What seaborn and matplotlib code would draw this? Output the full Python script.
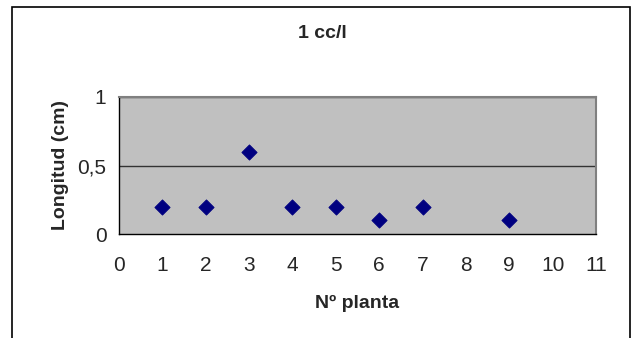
import pandas as pd
import numpy as np
import matplotlib
matplotlib.use("Agg")
import matplotlib.pyplot as plt
import seaborn as sns

plantas = [1, 2, 3, 4, 5, 6, 7, 9]
longitud = [0.2, 0.2, 0.6, 0.2, 0.2, 0.1, 0.2, 0.1]
x_ticks = list(range(0, 12))
y_ticks = [0, 0.5, 1]
y_labels = ["0", "0,5", "1"]

df = pd.DataFrame({"planta": plantas, "longitud": longitud})

sns.set_style("white")
plt.rcParams['font.family'] = ['Liberation Sans', 'DejaVu Sans']

fig = plt.figure(figsize=(6.32, 3.38), dpi=100)
ax = fig.add_axes([119 / 632, 1 - 234 / 338, (596 - 119) / 632, (234 - 97) / 338])

# marco exterior del grafico
fig.patches.append(plt.Rectangle((12 / 632, -0.05), (630 - 12) / 632, 1 - 7 / 338 + 0.05,
                                 transform=fig.transFigure, fill=False,
                                 edgecolor='black', linewidth=1.2))

ax.set_facecolor('#C0C0C0')
sns.scatterplot(data=df, x="planta", y="longitud", marker='D', s=60,
                color='#000080', edgecolor='#000080', ax=ax, zorder=3)

ax.set_xlim(0, 11)
ax.set_ylim(0, 1)
ax.set_xticks(x_ticks)
ax.set_yticks(y_ticks)
ax.set_yticklabels(y_labels)
ax.tick_params(axis='both', direction='out', length=5, width=1, color='black',
               labelsize=15, pad=4)
ax.tick_params(axis='x', pad=11)

for v in y_ticks[1:]:
    ax.axhline(v, color='#333333', linewidth=1, zorder=1)

for side in ['top', 'right']:
    ax.spines[side].set_color('#808080')
    ax.spines[side].set_linewidth(1.5)
for side in ['left', 'bottom']:
    ax.spines[side].set_color('black')
    ax.spines[side].set_linewidth(1)

ax.set_xlabel("Nº planta", fontsize=14, fontweight='bold', labelpad=14)
ax.set_ylabel("Longitud (cm)", fontsize=14, fontweight='bold', labelpad=6)
fig.text(322 / 632, 1 - 33 / 338, "1 cc/l", ha='center', va='center',
         fontsize=14, fontweight='bold')

fig.savefig("out.png", dpi=100)
